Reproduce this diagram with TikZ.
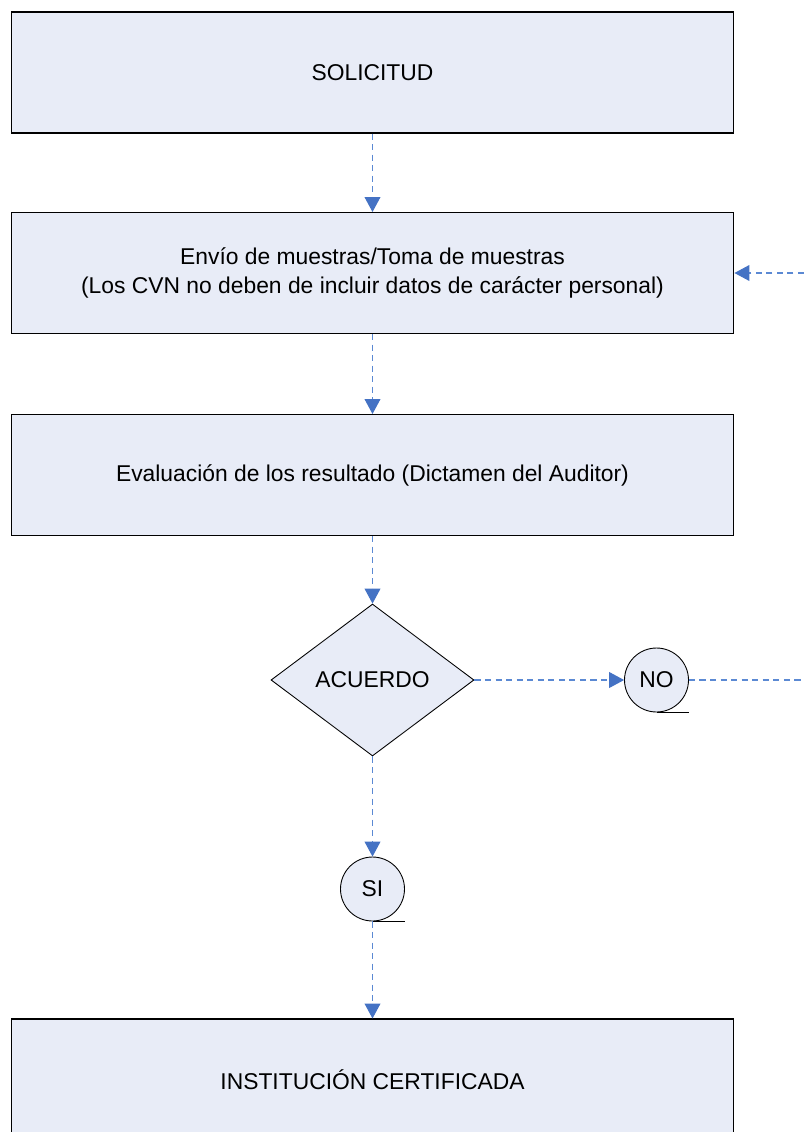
\documentclass[tikz,border=0pt]{standalone}
\usepackage{fontspec}
\setmainfont{Liberation Sans}
\usetikzlibrary{shapes.geometric,arrows.meta}
\definecolor{boxfill}{RGB}{232,236,247}
\definecolor{linkblue}{RGB}{91,137,211}
\definecolor{tipblue}{RGB}{68,114,196}
\tikzset{
  paso/.style={draw=black, line width=0.6pt, fill=boxfill, minimum width=14.46cm,
    minimum height=2.42cm, align=center, font=\fontsize{13}{16}\selectfont},
  decision/.style={diamond, draw=black, line width=0.5pt, fill=boxfill, inner sep=0pt,
    aspect=1.34, minimum width=4.06cm, minimum height=3.04cm, font=\fontsize{13}{16}\selectfont},
  conector/.style={circle, draw=black, line width=0.5pt, fill=boxfill, inner sep=0pt,
    minimum size=1.28cm, font=\fontsize{13}{16}\selectfont},
  flujo/.style={linkblue, dashed, dash pattern=on 3.5pt off 2.5pt, line width=0.6pt,
    -{Triangle[length=8.5pt,width=9pt,fill=tipblue,color=tipblue]}},
  flujosin/.style={linkblue, dashed, dash pattern=on 3.5pt off 2.5pt, line width=0.6pt}
}
\begin{document}
\begin{tikzpicture}[x=0.02cm, y=-0.02cm]
  \clip (0,0) rectangle (804,1132);
  \fill[white] (0,0) rectangle (804,1132);
  \node[paso] (solicitud) at (372.5,72.5) {SOLICITUD};
  \node[paso] (envio) at (372.5,273) {Envío de muestras/Toma de muestras\\(Los CVN no deben de incluir datos de carácter personal)};
  \node[paso] (evaluacion) at (372.5,475) {Evaluación de los resultado (Dictamen del Auditor)};
  \node[decision] (acuerdo) at (372.5,680) {ACUERDO};
  \node[conector] (no) at (656.5,680) {NO};
  \node[conector] (si) at (372.5,889) {SI};
  \node[paso] (institucion) at (372.5,1079.5) {INSTITUCIÓN CERTIFICADA};
  \coordinate (retorno) at (804,680);
  \coordinate (entrada) at (804,273);
  \draw[flujo] (solicitud) -- (envio);
  \draw[flujo] (envio) -- (evaluacion);
  \draw[flujo] (evaluacion) -- (acuerdo);
  \draw[flujo] (acuerdo) -- (no);
  \draw[flujosin] (no) -- (retorno);
  \draw[flujo] (entrada) -- (envio.east |- entrada);
  \draw[flujo] (acuerdo) -- (si);
  \draw[flujo] (si) -- (institucion);
  \draw[line width=0.5pt] (no.south) -- ++(32,0);
  \draw[line width=0.5pt] (si.south) -- ++(32,0);
\end{tikzpicture}
\end{document}
